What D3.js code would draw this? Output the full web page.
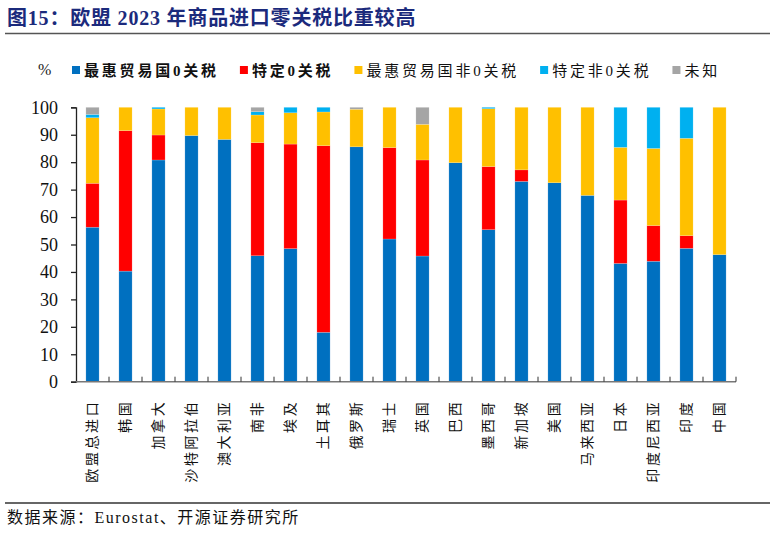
<!DOCTYPE html>
<html>
<head>
  <meta charset="UTF-8">
  <style>
    body {
      margin: 0;
      padding: 0;
      background-color: #ffffff;
    }
    svg text {
      font-family: "Liberation Serif", "Noto Sans CJK SC", serif;
    }
  </style>
</head>
<body>
<svg id="chart"></svg>
<script src="https://d3js.org/d3.v7.min.js"></script>
<script>
// chart data
let categories = ["欧盟总进口", "韩国", "加拿大", "沙特阿拉伯", "澳大利亚", "南非", "埃及", "土耳其", "俄罗斯", "瑞士",
                  "英国", "巴西", "墨西哥", "新加坡", "美国", "马来西亚", "日本", "印度尼西亚", "印度", "中国"];
let seriesNames = ["最惠贸易国0关税", "特定0关税", "最惠贸易国非0关税", "特定非0关税", "未知"];
let mfnZero     = [56.3, 40.3, 80.8, 89.7, 88.3, 45.9, 48.5, 18.0, 85.6, 52.0, 45.8, 79.8, 55.4, 73.0, 72.5, 67.9, 43.1, 43.9, 48.6, 46.3];
let prefZero    = [16.0, 51.2, 9.1, 0, 0, 41.2, 38.1, 68.0, 0, 33.3, 35.0, 0, 23.0, 4.2, 0, 0, 23.1, 13.0, 4.6, 0];
let mfnNonZero  = [23.9, 8.5, 9.5, 10.3, 11.7, 10.1, 11.4, 12.3, 13.7, 14.7, 13.0, 20.2, 21.1, 22.8, 27.5, 32.1, 19.2, 28.1, 35.5, 53.7];
let prefNonZero = [1.2, 0, 0.6, 0, 0, 1.2, 2.0, 1.7, 0, 0, 0, 0, 0.5, 0, 0, 0, 14.6, 15.0, 11.3, 0];
let unknown     = [2.6, 0, 0, 0, 0, 1.6, 0, 0, 0.7, 0, 6.2, 0, 0, 0, 0, 0, 0, 0, 0, 0];
let yTicks = [0, 10, 20, 30, 40, 50, 60, 70, 80, 90, 100];

let colors = ["#0070C0", "#FF0000", "#FFC000", "#00B0F0", "#A5A5A5"];
let boldLegend = [true, true, false, false, false];

let width = 774, height = 533;
let plotLeft = 76, plotRight = 736, plotTop = 107.3, plotBottom = 381.7;

let svg = d3.select("#chart")
    .attr("width", width)
    .attr("height", height);

// build rows for the stack
let seriesValues = [mfnZero, prefZero, mfnNonZero, prefNonZero, unknown];
let rows = categories.map((c, i) => {
    let r = { name: c };
    seriesNames.forEach((s, k) => r[s] = seriesValues[k][i]);
    return r;
});
let stacked = d3.stack().keys(seriesNames)(rows);

let x = d3.scaleBand()
    .domain(categories)
    .range([plotLeft, plotRight])
    .paddingInner(0.6)
    .paddingOuter(0.3);

let y = d3.scaleLinear()
    .domain([0, 100])
    .range([plotBottom, plotTop]);

// title
svg.append("text")
    .attr("x", 7)
    .attr("y", 25)
    .attr("fill", "#1B2A7C")
    .attr("font-size", 20)
    .attr("letter-spacing", 0.8)
    .attr("font-weight", "bold")
    .text("图15：欧盟 2023 年商品进口零关税比重较高");

svg.append("line")
    .attr("x1", 5).attr("x2", 770)
    .attr("y1", 33.5).attr("y2", 33.5)
    .attr("stroke", "#555")
    .attr("stroke-width", 1.5);

// legend
svg.append("text")
    .attr("x", 38)
    .attr("y", 75)
    .attr("font-size", 16)
    .attr("fill", "#222")
    .text("%");

let lx = 72;
seriesNames.forEach((s, k) => {
    svg.append("rect")
        .attr("x", lx)
        .attr("y", 66)
        .attr("width", 8)
        .attr("height", 8)
        .attr("fill", colors[k]);
    let t = svg.append("text")
        .attr("x", lx + 12)
        .attr("y", 76)
        .attr("font-size", 15)
        .attr("letter-spacing", 2.8)
        .attr("font-weight", boldLegend[k] ? "bold" : "normal")
        .attr("fill", "#111")
        .text(s);
    lx = lx + 12 + t.node().getComputedTextLength() + 21;
});

// bars
let g = svg.append("g");
g.selectAll("g.series")
    .data(stacked)
    .enter()
    .append("g")
    .attr("class", "series")
    .attr("fill", (d, k) => colors[k])
    .selectAll("rect")
    .data(d => d)
    .enter()
    .append("rect")
    .attr("x", d => x(d.data.name))
    .attr("y", d => y(d[1]))
    .attr("width", x.bandwidth())
    .attr("height", d => Math.max(0, y(d[0]) - y(d[1])))
    .attr("stroke", "rgba(255,255,255,0.35)")
    .attr("stroke-width", 0.5);

// y axis
let yAxis = svg.append("g")
    .attr("transform", `translate(${plotLeft},0)`)
    .call(d3.axisLeft(y).tickValues(yTicks).tickSize(5).tickPadding(13).tickSizeOuter(5));
yAxis.select(".domain").attr("stroke", "#222").attr("stroke-width", 1.3);
yAxis.selectAll(".tick line").attr("stroke", "#222").attr("stroke-width", 1.3);
yAxis.selectAll(".tick text")
    .attr("font-size", 18)
    .attr("font-family", "Liberation Serif")
    .attr("fill", "#111");

// x axis: line with inward ticks at band boundaries
let step = x.step();
let xg = svg.append("g");
xg.append("line")
    .attr("x1", plotLeft).attr("x2", plotRight)
    .attr("y1", plotBottom).attr("y2", plotBottom)
    .attr("stroke", "#777")
    .attr("stroke-width", 1.5);
xg.selectAll("line.tick")
    .data(categories)
    .enter()
    .append("line")
    .attr("class", "tick")
    .attr("x1", d => x(d) + x.bandwidth() / 2 + step / 2)
    .attr("x2", d => x(d) + x.bandwidth() / 2 + step / 2)
    .attr("y1", plotBottom)
    .attr("y2", plotBottom - 5)
    .attr("stroke", "#333")
    .attr("stroke-width", 1);

xg.selectAll("text")
    .data(categories)
    .enter()
    .append("text")
    .attr("transform", d => `translate(${x(d) + x.bandwidth() / 2},${plotBottom + 18}) rotate(-90)`)
    .attr("text-anchor", "end")
    .attr("dominant-baseline", "central")
    .attr("font-size", 14)
    .attr("letter-spacing", 2.6)
    .attr("font-family", "Noto Sans CJK SC")
    .attr("fill", "#111")
    .text(d => d);

// footer
svg.append("line")
    .attr("x1", 5).attr("x2", 770)
    .attr("y1", 503).attr("y2", 503)
    .attr("stroke", "#333")
    .attr("stroke-width", 1.3);

svg.append("text")
    .attr("x", 7)
    .attr("y", 523)
    .attr("font-size", 16)
    .attr("letter-spacing", 1.5)
    .attr("fill", "#111")
    .text("数据来源：Eurostat、开源证券研究所");
</script>
</body>
</html>
